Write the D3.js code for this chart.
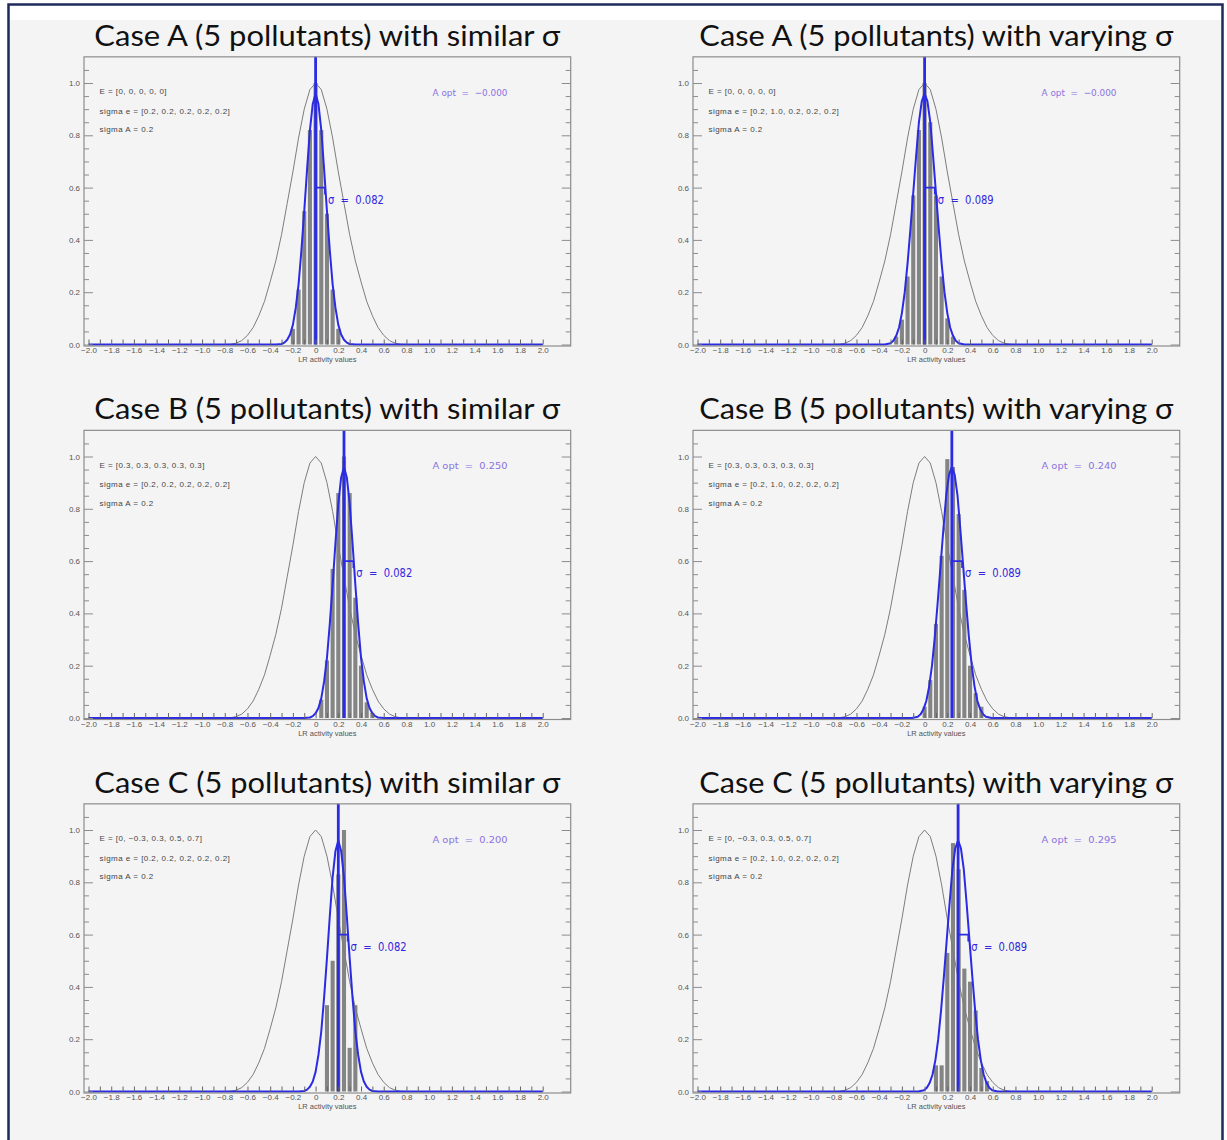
<!DOCTYPE html>
<html>
<head>
<meta charset="utf-8">
<script src="https://cdn.jsdelivr.net/npm/d3@7"></script>
<style>
html,body{margin:0;padding:0;background:#fff;}
svg{display:block;}
</style>
</head>
<body>
<svg id="chart" width="1227" height="1140"></svg>
<script>
// ---------------- data ----------------
const panelTitles = [
  "Case A (5 pollutants) with similar σ", "Case A (5 pollutants) with varying σ",
  "Case B (5 pollutants) with similar σ", "Case B (5 pollutants) with varying σ",
  "Case C (5 pollutants) with similar σ", "Case C (5 pollutants) with varying σ"
];
const eLabels = [
  "E = [0, 0, 0, 0, 0]", "E = [0, 0, 0, 0, 0]",
  "E = [0.3, 0.3, 0.3, 0.3, 0.3]", "E = [0.3, 0.3, 0.3, 0.3, 0.3]",
  "E = [0, −0.3, 0.3, 0.5, 0.7]", "E = [0, −0.3, 0.3, 0.5, 0.7]"
];
const sigmaELabels = [
  "sigma e = [0.2, 0.2, 0.2, 0.2, 0.2]", "sigma e = [0.2, 1.0, 0.2, 0.2, 0.2]",
  "sigma e = [0.2, 0.2, 0.2, 0.2, 0.2]", "sigma e = [0.2, 1.0, 0.2, 0.2, 0.2]",
  "sigma e = [0.2, 0.2, 0.2, 0.2, 0.2]", "sigma e = [0.2, 1.0, 0.2, 0.2, 0.2]"
];
const sigmaALabel = "sigma A = 0.2";
const aOptValues = [0.0, 0.0, 0.250, 0.240, 0.200, 0.295];
const aOptLabels = ["−0.000", "−0.000", "0.250", "0.240", "0.200", "0.295"];
const sigmaValues = [0.082, 0.089, 0.082, 0.089, 0.082, 0.089];
const sigmaLabels = ["0.082", "0.089", "0.082", "0.089", "0.082", "0.089"];

// histogram: first bin centre and bar heights (bin width 0.05)
const binWidth = 0.05;
const histStart = [-0.20, -0.25, 0.05, 0.00, 0.10, 0.10];
const histA_similar = [0.06, 0.21, 0.51, 0.82, 1.00, 0.82, 0.50, 0.21, 0.06];
const histA_varying = [0.03, 0.095, 0.26, 0.57, 0.82, 1.00, 0.85, 0.57, 0.26, 0.10, 0.03];
const histB_similar = [0.07, 0.22, 0.57, 0.86, 1.00, 0.86, 0.46, 0.20, 0.06, 0.02];
const histB_varying = [0.043, 0.145, 0.36, 0.62, 0.99, 0.96, 0.78, 0.49, 0.20, 0.095, 0.043];
const histC_similar = [0.33, 0.50, 0.83, 1.00, 0.167, 0.33];
const histC_varying = [0.10, 0.10, 0.53, 0.95, 0.85, 0.47, 0.42, 0.31, 0.09, 0.04];
const histHeights = [histA_similar, histA_varying, histB_similar, histB_varying, histC_similar, histC_varying];

// prior (grey) curve
const priorX = [-2.0, -0.8, -0.75, -0.7, -0.65, -0.6, -0.55, -0.5, -0.45, -0.4, -0.35, -0.3, -0.25, -0.2, -0.15, -0.1, -0.05, 0.0,
                0.05, 0.1, 0.15, 0.2, 0.25, 0.3, 0.35, 0.4, 0.45, 0.5, 0.55, 0.6, 0.65, 0.7, 0.75, 0.8, 2.0];
const priorY = [0.0, 0.0, 0.001, 0.005, 0.015, 0.035, 0.065, 0.11, 0.165, 0.24, 0.32, 0.42, 0.54, 0.66, 0.79, 0.90, 0.975, 1.0,
                0.975, 0.90, 0.79, 0.66, 0.54, 0.42, 0.32, 0.24, 0.165, 0.11, 0.065, 0.035, 0.015, 0.005, 0.001, 0.0, 0.0];

// fitted (blue) curve: height at distance d from the centre
const blueOffsets = [0, 0.025, 0.05, 0.075, 0.10, 0.125, 0.15, 0.175, 0.20, 0.225, 0.25, 0.275, 0.30, 0.35];
const blueSimilar = [0.96, 0.92, 0.82, 0.67, 0.51, 0.36, 0.23, 0.14, 0.075, 0.038, 0.018, 0.007, 0.002, 0.0];
const blueVarying = [0.96, 0.93, 0.85, 0.72, 0.58, 0.44, 0.31, 0.20, 0.12, 0.065, 0.033, 0.014, 0.005, 0.0];

const xMajorTicks = [-2.0, -1.8, -1.6, -1.4, -1.2, -1.0, -0.8, -0.6, -0.4, -0.2, 0.0, 0.2, 0.4, 0.6, 0.8, 1.0, 1.2, 1.4, 1.6, 1.8, 2.0];
const xTickLabels = ["−2.0", "−1.8", "−1.6", "−1.4", "−1.2", "−1.0", "−0.8", "−0.6", "−0.4", "−0.2", "0", "0.2", "0.4", "0.6", "0.8", "1.0", "1.2", "1.4", "1.6", "1.8", "2.0"];
const xMinorTicks = [-1.9, -1.7, -1.5, -1.3, -1.1, -0.9, -0.7, -0.5, -0.3, -0.1, 0.1, 0.3, 0.5, 0.7, 0.9, 1.1, 1.3, 1.5, 1.7, 1.9];
const yMajorTicks = [0.0, 0.2, 0.4, 0.6, 0.8, 1.0];
const yTickLabels = ["0.0", "0.2", "0.4", "0.6", "0.8", "1.0"];
const yMinorTicks = [0.05, 0.1, 0.15, 0.25, 0.3, 0.35, 0.45, 0.5, 0.55, 0.65, 0.7, 0.75, 0.85, 0.9, 0.95, 1.05];
const xAxisTitle = "LR activity values";

// ---------------- drawing ----------------
const svg = d3.select("#chart");
const BLUE = "#2b2be3";
const GREY = "#7d7d7d";
const FRAME = "#8c8c8c";
const TXT = "#555";

svg.append("rect").attr("x", 0).attr("y", 0).attr("width", 1227).attr("height", 1140).attr("fill", "#ffffff");
svg.append("rect").attr("x", 9).attr("y", 20).attr("width", 1213).attr("height", 1125).attr("fill", "#f4f4f4");
svg.append("rect").attr("x", 8.5).attr("y", 4.5).attr("width", 1214).attr("height", 1150)
  .attr("fill", "none").attr("stroke", "#1c2a5c").attr("stroke-width", 2.5);

const rowBase = [344.5, 718, 1091.5];
const unitY = 261.5;
const colShift = [0, 609];

panelTitles.forEach((title, i) => {
  const r = Math.floor(i / 2), c = i % 2;
  const g = svg.append("g");
  const x = d3.scaleLinear().domain([-2, 2]).range([88.5 + colShift[c], 542.7 + colShift[c]]);
  const y = d3.scaleLinear().domain([0, 1]).range([rowBase[r], rowBase[r] - unitY]);
  const fx0 = x(-2) - 4.5, fx1 = x(2) + 28, fy0 = y(1.1), fy1 = y(0);

  // title
  g.append("text").attr("x", (fx0 + fx1) / 2).attr("y", fy0 - 11)
    .attr("text-anchor", "middle").attr("font-family", "Lato, 'Open Sans', sans-serif")
    .attr("font-size", 28).attr("fill", "#111")
    .attr("textLength", c === 0 ? 466 : 474).attr("lengthAdjust", "spacingAndGlyphs")
    .text(title);

  // histogram bars
  const hs = histHeights[i];
  g.append("g").selectAll("rect").data(hs).join("rect")
    .attr("x", (d, k) => x(histStart[i] + k * binWidth - binWidth * 0.36))
    .attr("width", x(binWidth * 0.72) - x(0))
    .attr("y", d => y(d))
    .attr("height", d => y(0) - y(d))
    .attr("fill", "#848484");

  // prior curve
  const line = d3.line().x(d => x(d[0])).y(d => y(d[1]));
  g.append("path").datum(priorX.map((v, k) => [v, priorY[k]]))
    .attr("d", line).attr("fill", "none").attr("stroke", GREY).attr("stroke-width", 1);

  // fitted curve
  const shape = c === 0 ? blueSimilar : blueVarying;
  const ctr = aOptValues[i];
  const pts = [[-2, 0]];
  for (let k = blueOffsets.length - 1; k > 0; k--) pts.push([ctr - blueOffsets[k], shape[k]]);
  pts.push([ctr, shape[0]]);
  for (let k = 1; k < blueOffsets.length; k++) pts.push([ctr + blueOffsets[k], shape[k]]);
  pts.push([2, 0]);
  g.append("path").datum(pts).attr("d", line).attr("fill", "none")
    .attr("stroke", BLUE).attr("stroke-width", 2).attr("stroke-linejoin", "round");

  // vertical line at A opt
  g.append("line").attr("x1", x(ctr)).attr("x2", x(ctr)).attr("y1", y(0)).attr("y2", fy0)
    .attr("stroke", BLUE).attr("stroke-width", 2.8);

  // sigma marker
  const sx = x(ctr + sigmaValues[i]);
  g.append("path").attr("d", `M${x(ctr)},${y(0.6)}H${sx}V${y(0.6) + 7}`)
    .attr("fill", "none").attr("stroke", BLUE).attr("stroke-width", 1.6);
  g.append("text").attr("x", sx + 3).attr("y", y(0.555) + 4.5)
    .attr("font-family", "'DejaVu Sans', sans-serif").attr("font-size", 11.5).attr("fill", "#3326e0")
    .attr("textLength", 56).attr("lengthAdjust", "spacingAndGlyphs")
    .attr("xml:space", "preserve").text("σ  =  " + sigmaLabels[i]);

  // axes
  const xMajor = d3.axisBottom(x).tickValues(xMajorTicks).tickSize(-5).tickPadding(3)
    .tickFormat((d, k) => xTickLabels[k]);
  const xMinor = d3.axisBottom(x).tickValues(xMinorTicks).tickSize(-5).tickFormat("");
  const gx = g.append("g").attr("transform", `translate(0,${y(0)})`).call(xMajor);
  const gx2 = g.append("g").attr("transform", `translate(0,${y(0)})`).call(xMinor);
  [gx, gx2].forEach(a => { a.select(".domain").remove(); a.selectAll("line").attr("stroke", "#666"); });
  gx.selectAll("text").attr("font-family", "'Liberation Sans', sans-serif").attr("font-size", 8).attr("fill", TXT);

  const yL = d3.axisLeft(y).tickValues(yMajorTicks).tickSize(-9).tickPadding(4).tickFormat((d, k) => yTickLabels[k]);
  const yLm = d3.axisLeft(y).tickValues(yMinorTicks).tickSize(-5).tickFormat("");
  const yR = d3.axisRight(y).tickValues(yMajorTicks).tickSize(-9).tickFormat("");
  const yRm = d3.axisRight(y).tickValues(yMinorTicks).tickSize(-5).tickFormat("");
  [[yL, fx0], [yLm, fx0], [yR, fx1], [yRm, fx1]].forEach(([ax, px]) => {
    const a = g.append("g").attr("transform", `translate(${px},0)`).call(ax);
    a.select(".domain").remove();
    a.selectAll("line").attr("stroke", FRAME);
    a.selectAll("text").attr("font-family", "'Liberation Sans', sans-serif").attr("font-size", 8).attr("fill", TXT);
  });

  // frame
  g.append("rect").attr("x", fx0).attr("y", fy0).attr("width", fx1 - fx0).attr("height", fy1 - fy0 + 1.5)
    .attr("fill", "none").attr("stroke", FRAME).attr("stroke-width", 1.2);

  // x axis title
  g.append("text").attr("x", (fx0 + fx1) / 2).attr("y", y(0) + 17.5).attr("text-anchor", "middle")
    .attr("font-family", "'Liberation Sans', sans-serif").attr("font-size", 7.5).attr("fill", TXT)
    .text(xAxisTitle);

  // annotations
  const ax0 = fx0 + 15.5;
  [[eLabels[i], 91.7], [sigmaELabels[i], 111.3], [sigmaALabel, 129.5]].forEach(([t, yy]) => {
    g.append("text").attr("x", ax0).attr("y", yy - 344.5 + rowBase[r] + 2.5)
      .attr("font-family", "'Liberation Sans', sans-serif").attr("font-size", 8).attr("fill", "#444")
      .attr("letter-spacing", 0.45)
      .text(t);
  });
  g.append("text").attr("x", fx0 + 348.5).attr("y", rowBase[r] - 344.5 + 95.5)
    .attr("font-family", "'DejaVu Sans', sans-serif").attr("font-size", 9.5).attr("fill", "#8a72e0")
    .attr("textLength", 75).attr("lengthAdjust", "spacingAndGlyphs")
    .attr("xml:space", "preserve").text("A opt  =  " + aOptLabels[i]);
});
</script>
</body>
</html>
